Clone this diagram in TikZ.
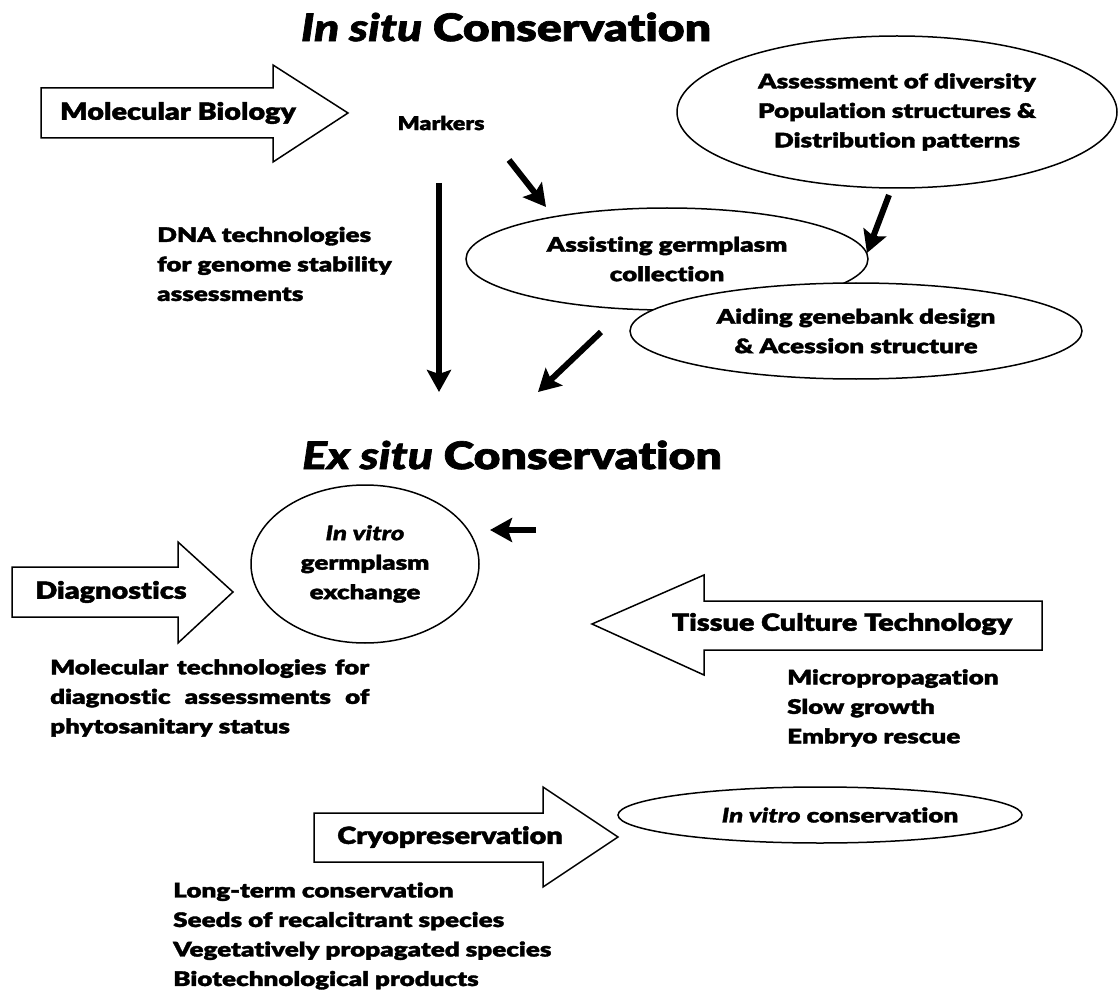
\documentclass[tikz,border=0pt]{standalone}
\usepackage{fontspec}
\usetikzlibrary{arrows.meta,shapes.geometric}
\IfFontExistsTF{Lato Black}{%
  \IfFontExistsTF{Lato Black Italic}{%
    \newfontfamily\bk{Lato Black}[ItalicFont={Lato Black Italic},FakeStretch=1.22,FakeBold=1.8,Ligatures=NoCommon]
    \newfontfamily\bkw{Lato Black}[ItalicFont={Lato Black Italic},FakeStretch=1.3,FakeBold=1.8,Ligatures=NoCommon]}{%
    \newfontfamily\bk{Lato Black}[AutoFakeSlant=0.2,FakeStretch=1.22,FakeBold=1.8,Ligatures=NoCommon]
    \newfontfamily\bkw{Lato Black}[AutoFakeSlant=0.2,FakeStretch=1.3,FakeBold=1.8,Ligatures=NoCommon]}}{%
  \newfontfamily\bk{Liberation Sans}[UprightFont=* Bold,ItalicFont=* Bold Italic,FakeBold=1.5,FakeStretch=1.1]
  \newfontfamily\bkw{Liberation Sans}[UprightFont=* Bold,ItalicFont=* Bold Italic,FakeBold=1.5,FakeStretch=1.15]}
\tikzset{
  blockarrow/.style={draw,line width=1.5pt,fill=white,line join=miter},
  ell/.style={ellipse,draw,line width=1.5pt,fill=white,inner sep=0pt,align=center,font=\bkw\fontsize{20}{29.5}\selectfont},
  lbl/.style={font=\bk\fontsize{23.6}{28}\selectfont,inner sep=0pt},
  lst/.style={font=\bkw\fontsize{20}{29.5}\selectfont,align=left,inner sep=0pt},
  ttl/.style={font=\bk\fontsize{38}{44}\selectfont,inner sep=0pt},
  fatarrow/.style={-{Stealth[length=22pt,width=24pt,inset=4pt]},line width=6pt}
}
\begin{document}
\begin{tikzpicture}[x=1pt,y=-1pt]
\useasboundingbox (0,0) rectangle (1119,992);
\fill[white] (0,0) rectangle (1119,992);

% titles
\node[ttl] (t1) at (506,27) {\textit{In situ} Conservation};
\node[ttl] (t2) at (512,455) {\textit{Ex situ} Conservation};

% Molecular Biology block arrow
\draw[blockarrow] (41,88) -- (273,88) -- (273,65) -- (348,113) -- (273,162) -- (273,138) -- (41,138) -- cycle;
\node[lbl] (mb) at (178,113) {Molecular Biology};
\node[lst,font=\bk\fontsize{19}{24}\selectfont] (markers) at (441,123) {Markers};

% DNA text
\node[lst,anchor=west] (dna) at (157,264) {DNA technologies\\for genome stability\\assessments};

% ellipses in situ
\node[ell,minimum width=440pt,minimum height=152pt] (assess) at (897,112) {Assessment of diversity\\Population structures \&\\Distribution patterns};
\node[ell,minimum width=402pt,minimum height=102pt] (assist) at (667,259) {Assisting germplasm\\collection};
\node[ell,minimum width=452pt,minimum height=96pt] (aid) at (856,331) {Aiding genebank design\\\& Acession structure};

% arrows
\coordinate (v1) at (439,183);
\coordinate (v2) at (439,392);
\draw[fatarrow] (v1) -- (v2);
\coordinate (m1) at (509,160);
\coordinate (m2) at (546,207);
\draw[fatarrow] (m1) -- (m2);
\coordinate (a1) at (889,195);
\coordinate (a2) at (867,253);
\draw[fatarrow] (a1) -- (a2);
\coordinate (g1) at (601,332);
\coordinate (g2) at (538,392);
\draw[fatarrow] (g1) -- (g2);

% ex situ
\node[ell,minimum width=228pt,minimum height=158pt] (exch) at (365,564) {\textit{In vitro}\\germplasm\\exchange};
\coordinate (s1) at (536,530);
\coordinate (s2) at (490,530);
\draw[fatarrow] (s1) -- (s2);

% Diagnostics
\draw[blockarrow] (12,567) -- (178,567) -- (178,542) -- (233,592) -- (178,643) -- (178,617) -- (12,617) -- cycle;
\node[lbl] (diag) at (111,592) {Diagnostics};
\node[lst,anchor=west] (moltech) at (50,698) {\makebox[319pt][s]{Molecular technologies for}\\\makebox[319pt][s]{diagnostic assessments of}\\phytosanitary status};

% Tissue culture
\draw[blockarrow] (1042,601) -- (704,601) -- (704,575) -- (592,624) -- (704,675) -- (704,650) -- (1042,650) -- cycle;
\node[lbl] (tct) at (842,624) {Tissue Culture Technology};
\node[lst,anchor=west] (tlist) at (787,708) {Micropropagation\\Slow growth\\Embryo rescue};

% Cryopreservation
\draw[blockarrow] (314,813) -- (543,813) -- (543,787) -- (618,837) -- (543,887) -- (543,862) -- (314,862) -- cycle;
\node[lbl] (cryo) at (450,837) {Cryopreservation};
\node[ell,minimum width=404pt,minimum height=56pt] (ivc) at (820,815) {\hspace*{40pt}\textit{In vitro} conservation};
\node[lst,anchor=west] (clist) at (173,936) {Long-term conservation\\Seeds of recalcitrant species\\Vegetatively propagated species\\Biotechnological products};
\end{tikzpicture}
\end{document}
